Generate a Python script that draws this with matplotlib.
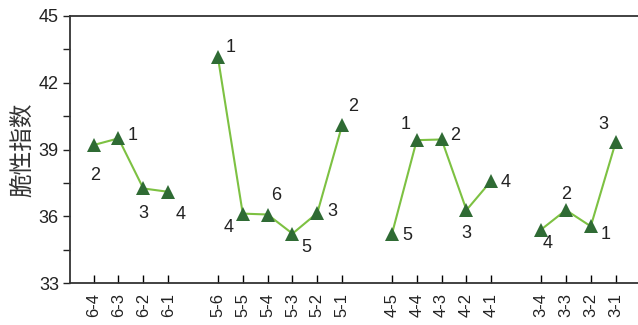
import matplotlib
matplotlib.use('Agg')
import matplotlib.pyplot as plt
import numpy as np

plt.rcParams['font.family'] = ['Liberation Sans', 'Noto Sans CJK SC', 'DejaVu Sans']

# Sample groups (well-interval), plotted left to right with a gap between groups
groups = [
    ['6-4', '6-3', '6-2', '6-1'],
    ['5-6', '5-5', '5-4', '5-3', '5-2', '5-1'],
    ['4-5', '4-4', '4-3', '4-2', '4-1'],
    ['3-4', '3-3', '3-2', '3-1'],
]
values = [
    [39.2, 39.5, 37.25, 37.1],
    [43.15, 36.12, 36.08, 35.22, 36.15, 40.1],
    [35.2, 39.42, 39.45, 36.28, 37.6],
    [35.4, 36.28, 35.55, 39.32],
]
ranks = [
    ['2', '1', '3', '4'],
    ['1', '4', '6', '5', '3', '2'],
    ['5', '1', '2', '3', '4'],
    ['4', '2', '1', '3'],
]
# label offsets in points
offsets = [
    [(1, -22), (10, 2), (0, -18), (9, -16)],
    [(9, 7), (-10, -10), (6, 14), (10, -10), (11, 1), (8, 13)],
    [(11, -1), (-8, 11), (10, 3), (0, -17), (10, -1)],
    [(5, -10), (0, 11), (11, -6), (-9, 13)],
]

line_color = '#7dc142'
marker_color = '#2f6b34'
text_color = '#222222'

fig = plt.figure(figsize=(6.38, 3.25), dpi=100)
ax = fig.add_axes([0.1097, 0.129, 0.8903, 0.822])

xticks, xlabels = [], []
pos = 1
for names, vals, rk, offs in zip(groups, values, ranks, offsets):
    xs = np.arange(pos, pos + len(names))
    ax.plot(xs, vals, '-', color=line_color, linewidth=1.5, zorder=2)
    ax.plot(xs, vals, '^', color=marker_color, markersize=9.5, zorder=3,
            markeredgewidth=0)
    for x, v, r, o in zip(xs, vals, rk, offs):
        ax.annotate(r, (x, v), xytext=o, textcoords='offset points',
                    ha='center', va='center', fontsize=13, color=text_color)
    xticks += list(xs)
    xlabels += names
    pos += len(names) + 1

ax.set_xlim(0.05, 22.9)
ax.set_ylim(33, 45)
ax.set_yticks(np.arange(33, 46, 3))
ax.set_yticks(np.arange(34.5, 45, 3), minor=True)
ax.set_xticks(xticks)
ax.set_xticklabels(xlabels, rotation=90, fontsize=12, color=text_color)
ax.tick_params(axis='y', direction='out', length=5, width=1, labelsize=13,
               colors=text_color, pad=3)
ax.tick_params(axis='y', which='minor', direction='out', length=5, width=1,
               colors=text_color)
ax.tick_params(axis='x', direction='in', length=6, width=1, pad=7)
ax.set_ylabel('脆性指数', fontsize=17, color='#333333', labelpad=3)

ax.spines['right'].set_visible(False)
for s in ['left', 'bottom', 'top']:
    ax.spines[s].set_color('#333333')
    ax.spines[s].set_linewidth(1.3)

fig.savefig('out.png', dpi=100)
